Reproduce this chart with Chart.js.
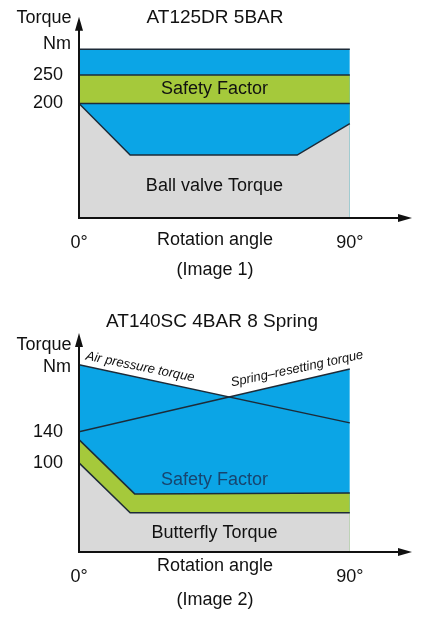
<!DOCTYPE html>
<html>
<head>
<meta charset="utf-8">
<script src="https://cdn.jsdelivr.net/npm/chart.js@4"></script>
<style>
  body { margin: 0; background: #fff; }
  .box { position: absolute; left: 0; width: 435px; }
</style>
</head>
<body>
<div class="box" style="top:0;height:290px"><canvas id="chart1"></canvas></div>
<div class="box" style="top:290px;height:328px"><canvas id="chart2"></canvas></div>
<script>
// ====> shared data <====
const angleTicks = [0, 90];

// ====> Image 1 data <====
const top1Angles = [0, 90];
const top1Blue = [295, 295];
const top1Green = [250, 250];
const top1Below = [200, 200];
const ballAngles = [0, 17, 72.5, 90];
const ballTorque = [200, 110, 110, 165];
const ticks1 = [200, 250];

// ====> Image 2 data <====
const airAngles = [0, 90];
const airTorque = [226.5, 151.6];
const springAngles = [0, 90];
const springTorque = [140, 221];
const envAngles = [0, 49.9, 90];
const envTorque = [226.5, 184.9, 221];
const safetyAngles = [0, 18.5, 90];
const safetyTorque = [130, 60, 61];
const flyAngles = [0, 17, 90];
const flyTorque = [100, 35.5, 35.5];
const ticks2 = [100, 140];

const BLUE = "#0ba5e6";
const GREEN = "#a5c93b";
const GRAY = "#d9d9d9";
const EDGE = "#1d2b38";
const FONT = "Liberation Sans, Arial, sans-serif";

const pts = (xs, ys) => xs.map((x, i) => ({ x: x, y: ys[i] }));

function area(xs, ys, color, order, border) {
  return {
    data: pts(xs, ys),
    showLine: true,
    fill: "start",
    backgroundColor: color,
    borderColor: border ? EDGE : color,
    borderWidth: border ? 1.5 : 0,
    pointRadius: 0,
    order: order,
    tension: 0,
  };
}

function line(xs, ys, order) {
  return {
    data: pts(xs, ys),
    showLine: true,
    fill: false,
    borderColor: EDGE,
    borderWidth: 1.5,
    pointRadius: 0,
    order: order,
  };
}

// draws arrows, axis lines and text labels placed by data coords
function decorPlugin(texts) {
  return {
    id: "decor",
    afterDatasetsDraw(chart) {
      const { ctx, chartArea: a, scales } = chart;
      const X = (v) => scales.x.getPixelForValue(v);
      const Y = (v) => scales.y.getPixelForValue(v);
      ctx.save();
      ctx.strokeStyle = "#111";
      ctx.fillStyle = "#111";
      ctx.lineWidth = 2;
      ctx.beginPath();
      ctx.moveTo(a.left, a.top + 4);
      ctx.lineTo(a.left, a.bottom);
      ctx.lineTo(a.right - 4, a.bottom);
      ctx.stroke();
      ctx.beginPath();
      ctx.moveTo(a.left, a.top - 2);
      ctx.lineTo(a.left - 4, a.top + 12);
      ctx.lineTo(a.left + 4, a.top + 12);
      ctx.fill();
      ctx.beginPath();
      ctx.moveTo(a.right + 2, a.bottom);
      ctx.lineTo(a.right - 12, a.bottom - 4);
      ctx.lineTo(a.right - 12, a.bottom + 4);
      ctx.fill();
      texts.forEach((t) => {
        ctx.save();
        ctx.font = t.font || "18px " + FONT;
        ctx.fillStyle = t.color || "#111";
        ctx.textAlign = t.align || "center";
        ctx.textBaseline = "middle";
        const px = t.px !== undefined ? t.px : X(t.x);
        const py = t.py !== undefined ? t.py : Y(t.y);
        ctx.translate(px, py);
        if (t.rot) ctx.rotate(t.rot);
        ctx.fillText(t.text, 0, 0);
        ctx.restore();
      });
      ctx.restore();
    },
  };
}

function options(yMin, yMax, yTicks, topPad, xHeight) {
  return {
    responsive: true,
    maintainAspectRatio: false,
    animation: false,
    layout: { padding: { top: topPad, right: 25, left: 0, bottom: 0 } },
    plugins: { legend: { display: false }, tooltip: { enabled: false } },
    scales: {
      x: {
        type: "linear",
        min: 0,
        max: 110,
        afterBuildTicks: (s) => { s.ticks = angleTicks.map((v) => ({ value: v })); },
        afterFit: (s) => { s.height = xHeight; },
        grid: { display: false },
        border: { display: false },
        ticks: {
          color: "#111",
          font: { size: 18, family: FONT },
          padding: 6,
          callback: (v) => v + "°",
        },
      },
      y: {
        min: yMin,
        max: yMax,
        afterBuildTicks: (s) => { s.ticks = yTicks.map((v) => ({ value: v })); },
        afterFit: (s) => { s.width = 79; },
        grid: { display: false },
        border: { display: false },
        ticks: { color: "#111", font: { size: 18, family: FONT }, padding: 8 },
      },
    },
  };
}

// =====> Chart 1: AT125DR 5BAR <=====
new Chart("chart1", {
  type: "scatter",
  data: {
    datasets: [
      area(top1Angles, top1Blue, BLUE, 4, true),
      area(top1Angles, top1Green, GREEN, 3, true),
      area(top1Angles, top1Below, BLUE, 2, true),
      area(ballAngles, ballTorque, GRAY, 1, true),
    ],
  },
  options: options(0, 348, ticks1, 5, 72),
  plugins: [
    decorPlugin([
      { text: "AT125DR 5BAR", px: 215, py: 18, font: "19px " + FONT },
      { text: "Torque", px: 44, py: 18 },
      { text: "Nm", px: 57, py: 44 },
      { text: "Safety Factor", x: 45, y: 225 },
      { text: "Ball valve Torque", x: 45, y: 55 },
      { text: "Rotation angle", px: 215, py: 240 },
      { text: "(Image 1)", px: 215, py: 270 },
    ]),
  ],
});

// =====> Chart 2: AT140SC 4BAR 8 Spring <=====
new Chart("chart2", {
  type: "scatter",
  data: {
    datasets: [
      area(envAngles, envTorque, BLUE, 5, false),
      line(airAngles, airTorque, 3),
      line(springAngles, springTorque, 4),
      area(safetyAngles, safetyTorque, GREEN, 2, true),
      area(flyAngles, flyTorque, GRAY, 1, true),
    ],
  },
  options: options(-15, 265, ticks2, 45, 66),
  plugins: [
    decorPlugin([
      { text: "AT140SC 4BAR 8 Spring", px: 212, py: 32, font: "19px " + FONT },
      { text: "Torque", px: 44, py: 55 },
      { text: "Nm", px: 57, py: 77 },
      { text: "Air pressure torque", px: 86, py: 66, align: "left", rot: 0.2, font: "italic 13px " + FONT },
      { text: "Spring–resetting torque", px: 231, py: 93, align: "left", rot: -0.21, font: "italic 13px " + FONT },
      { text: "Safety Factor", x: 45, y: 78, color: "#17456f" },
      { text: "Butterfly Torque", x: 45, y: 10 },
      { text: "Rotation angle", px: 215, py: 276 },
      { text: "(Image 2)", px: 215, py: 310 },
    ]),
  ],
});
</script>
</body>
</html>
